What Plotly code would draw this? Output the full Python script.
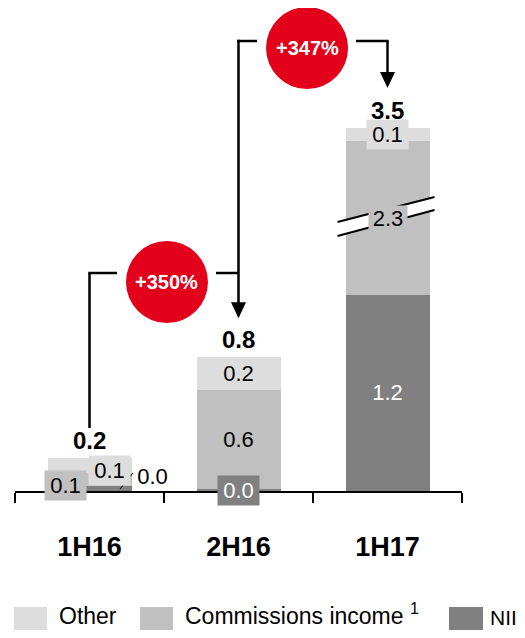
import plotly.graph_objects as go

# ---------------- data ----------------
categories = ["1H16", "2H16", "1H17"]
nii = [0.03, 0.01, 1.19]
commissions = [0.08, 0.60, 2.27]
other = [0.09, 0.20, 0.08]
growth_labels = ["+350%", "+347%"]
legend_names = ["Other", "Commissions income <sup>1</sup>", "NII"]

# the commissions bar of 1H17 is drawn with a broken scale
BREAK_INDEX = 2
BREAK_HIDDEN = 1.34

# ---------------- style ----------------
C_OTHER = "#dddddd"
C_COMM = "#c0c0c0"
C_NII = "#808080"
C_RED = "#e2001a"
FONT = "Liberation Sans, Arial, sans-serif"

OFF = 8  # page body margin
W, H = 525 - 2 * OFF, 638 - 2 * OFF
PLOT_L, PLOT_R, PLOT_B = 15, 462, 491      # page pixels of the plot area
ML, MT = PLOT_L - OFF, 0
MR = W - (PLOT_R - OFF)
MB = H - (PLOT_B - OFF)
PLOT_W = W - ML - MR
PLOT_H = H - MT - MB
XR = [-0.5, 2.5]
PXX = PLOT_W / (XR[1] - XR[0])   # px per x unit
PXY = 165.0                      # px per y unit
YR = [0, PLOT_H / PXY]


def dx(p):
    return p / PXX


def dy(p):
    return p / PXY


def px_x(p):
    return (p - OFF - ML) / PLOT_W


def px_y(p):
    return (MT + PLOT_H - (p - OFF)) / PLOT_H


comm_drawn = [c - (BREAK_HIDDEN if i == BREAK_INDEX else 0.0) for i, c in enumerate(commissions)]
totals = [n + c + o for n, c, o in zip(nii, commissions, other)]
top_drawn = [n + c + o for n, c, o in zip(nii, comm_drawn, other)]

BAR_W = dx(84)

fig = go.Figure()
fig.add_trace(go.Bar(x=categories, y=nii, marker_color=C_NII, width=BAR_W, name="NII",
                     marker_line_width=0, showlegend=False, hoverinfo="skip"))
fig.add_trace(go.Bar(x=categories, y=comm_drawn, marker_color=C_COMM, width=BAR_W,
                     name="Commissions income", marker_line_width=0, showlegend=False,
                     hoverinfo="skip"))
fig.add_trace(go.Bar(x=categories, y=other, marker_color=C_OTHER, width=BAR_W, name="Other",
                     marker_line_width=0, showlegend=False, hoverinfo="skip"))

shapes = []
annotations = []

# axis break on 1H17 commissions
mid = nii[BREAK_INDEX] + comm_drawn[BREAK_INDEX] / 2
bx0, bx1 = BREAK_INDEX - dx(50), BREAK_INDEX + dx(47)
up0, up1 = mid - dy(4), mid + dy(21)
lo0, lo1 = mid - dy(18), mid + dy(8)
shapes.append(dict(type="path", xref="x", yref="y",
                   path=f"M{bx0},{lo0} L{bx1},{lo1} L{bx1},{up1} L{bx0},{up0} Z",
                   fillcolor="white", line=dict(width=0)))
for a, b in ((up0, up1), (lo0, lo1)):
    shapes.append(dict(type="line", xref="x", yref="y", x0=bx0, y0=a, x1=bx1, y1=b,
                       line=dict(color="black", width=2)))

SEG_FS = 22


def seg_label(x, y, val, bg, fc, xs=0, ys=0, w=41, h=29):
    annotations.append(dict(x=x, y=y, xref="x", yref="y", text=f"{val:.1f}", showarrow=False,
                            font=dict(family=FONT, size=SEG_FS, color=fc),
                            bgcolor=bg, width=w, height=h, xshift=xs, yshift=ys,
                            borderpad=0))


for i in range(3):
    n, c, o = nii[i], comm_drawn[i], other[i]
    if i == 0:
        seg_label(i, n / 2, nii[i], "rgba(0,0,0,0)", "black", xs=63, ys=12.5)
        seg_label(i, n + c / 2, commissions[i], C_COMM, "black", xs=-24, ys=-6)
        seg_label(i, n + c + o / 2, other[i], C_OTHER, "black", xs=20, ys=-5)
    else:
        seg_label(i, n / 2, nii[i], C_NII, "white")
        brk = i == BREAK_INDEX
        seg_label(i, n + c / 2, commissions[i], C_COMM, "black", w=38 if brk else 41, h=24 if brk else 29)
        seg_label(i, n + c + o / 2, other[i], C_OTHER, "black")
    annotations.append(dict(x=i, y=top_drawn[i], xref="x", yref="y", text=f"<b>{totals[i]:.1f}</b>",
                            showarrow=False, yanchor="bottom", yshift=2,
                            font=dict(family=FONT, size=24, color="black")))

# leader line for the tiny 1H16 NII value
shapes.append(dict(type="line", xref="x", yref="y", x0=dx(30.5), y0=dy(2), x1=dx(43.5), y1=dy(18),
                   line=dict(color="black", width=1)))

# growth connectors
LW = 2.5
L1 = dy(218)
L2 = dy(450)
c1x, c1y = 0.52, L1 - dy(9)
c2x, c2y = 1.46, L2 - dy(7)
R = 41
HW, HH = dx(7.5), dy(16)


def line(x0, y0, x1, y1):
    shapes.append(dict(type="line", xref="x", yref="y", x0=x0, y0=y0, x1=x1, y1=y1,
                       line=dict(color="black", width=LW)))


def head(x, tip):
    shapes.append(dict(type="path", xref="x", yref="y",
                       path=f"M{x - HW},{tip + HH} L{x + HW},{tip + HH} L{x},{tip} Z",
                       fillcolor="black", line=dict(width=0)))


line(0, top_drawn[0] + dy(30), 0, L1)
line(0 - dx(1.2), L1, c1x - dx(50), L1)
line(c1x + dx(49), L1, 1, L1)
tip1 = top_drawn[1] + dy(39)
line(1, L2 + dy(1.2), 1, tip1 + HH * 0.8)
head(1, tip1)
line(1 - dx(1.2), L2, c2x - dx(50), L2)
line(c2x + dx(49), L2, 2 + dx(1.2), L2)
tip2 = top_drawn[2] + dy(40)
line(2, L2, 2, tip2 + HH * 0.8)
head(2, tip2)

for (cx, cy), lab in zip(((c1x, c1y), (c2x, c2y)), growth_labels):
    shapes.append(dict(type="circle", xref="x", yref="y", xsizemode="pixel", ysizemode="pixel",
                       xanchor=cx, yanchor=cy, x0=-R, x1=R, y0=-R, y1=R,
                       fillcolor=C_RED, line=dict(width=0)))
    annotations.append(dict(x=cx, y=cy, xref="x", yref="y", text=f"<b>{lab}</b>", showarrow=False,
                            font=dict(family=FONT, size=20, color="white")))

# legend (swatch left, swatch right, text left, colour, font size)
leg = [(14, 47, 58, C_OTHER, 23), (140, 173, 184, C_COMM, 23), (449, 483, 489, C_NII, 21)]
for (s0, s1, tx, col, fs), name in zip(leg, legend_names):
    shapes.append(dict(type="rect", xref="paper", yref="paper", x0=px_x(s0), x1=px_x(s1),
                       y0=px_y(630), y1=px_y(607), fillcolor=col, line=dict(width=0)))
    annotations.append(dict(x=px_x(tx), y=px_y(630), xref="paper", yref="paper", text=name,
                            showarrow=False, xanchor="left", yanchor="bottom", height=28,
                            valign="bottom", borderpad=0,
                            font=dict(family=FONT, size=fs, color="black")))

fig.update_layout(
    width=W, height=H, barmode="stack", bargap=0,
    margin=dict(l=ML, r=MR, t=MT, b=MB, pad=0),
    paper_bgcolor="white", plot_bgcolor="white",
    showlegend=False,
    shapes=shapes, annotations=annotations,
    xaxis=dict(type="category", range=XR, showline=True, linecolor="black", linewidth=2,
               ticks="outside", tickson="boundaries", ticklen=10, tickwidth=2, tickcolor="black",
               tickfont=dict(family=FONT, size=27, color="black", weight="bold"),
               ticklabelstandoff=31, showgrid=False, zeroline=False, fixedrange=True),
    yaxis=dict(range=YR, visible=False, showgrid=False, zeroline=False, fixedrange=True),
)

fig.write_html("out.html")
